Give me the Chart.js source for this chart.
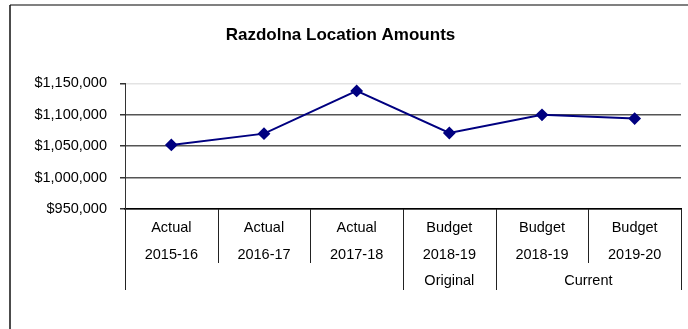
<!DOCTYPE html>
<html>
<head>
<meta charset="utf-8">
<title>Razdolna Location Amounts</title>
<script src="https://cdn.jsdelivr.net/npm/chart.js@4/dist/chart.umd.min.js"></script>
<style>
    html, body { margin: 0; padding: 0; background: #fff; }
    #wrap { position: relative; width: 688px; height: 329px; }
</style>
</head>
<body>
<div id="wrap"><canvas id="amountChart" width="688" height="329"></canvas></div>
<script>
// chart data
const years = ['2015-16', '2016-17', '2017-18', '2018-19', '2018-19', '2019-20'];
const kinds = ['Actual', 'Actual', 'Actual', 'Budget', 'Budget', 'Budget'];
const amounts = [1052000, 1070000, 1138000, 1071000, 1100000, 1094000];
// third label row: text, first and last category it spans
const groups = [
    { text: 'Original', from: 3, to: 3 },
    { text: 'Current', from: 4, to: 5 }
];
const yTicks = [950000, 1000000, 1050000, 1100000, 1150000];

const labelFont = 'Liberation Sans, Arial, sans-serif';

function money(v) {
    return '$' + v.toLocaleString('en-US');
}

// frame, category dividers and the group row under the axis
const tablePlugin = {
    id: 'tableLines',
    afterDraw(chart) {
        const ctx = chart.ctx;
        const area = chart.chartArea;
        const step = (area.right - area.left) / years.length;
        const edge = i => area.left + i * step;

        // boundaries that run down through the group row
        const fullEdges = [0, years.length];
        groups.forEach(g => { fullEdges.push(g.from); fullEdges.push(g.to + 1); });

        ctx.save();
        ctx.strokeStyle = '#222';
        ctx.lineWidth = 1;
        for (let i = 0; i <= years.length; i++) {
            const px = Math.round(edge(i)) + 0.5;
            const bottom = fullEdges.includes(i) ? area.bottom + 81 : area.bottom + 54;
            ctx.beginPath();
            ctx.moveTo(px, area.bottom);
            ctx.lineTo(px, bottom);
            ctx.stroke();
        }

        ctx.fillStyle = '#000';
        ctx.font = '14.5px ' + labelFont;
        ctx.textAlign = 'center';
        ctx.textBaseline = 'middle';
        groups.forEach(g => {
            const cx = (edge(g.from) + edge(g.to + 1)) / 2;
            ctx.fillText(g.text, cx, area.bottom + 72);
        });

        // outer frame
        ctx.strokeStyle = '#808080';
        ctx.lineWidth = 2;
        ctx.beginPath();
        ctx.moveTo(10, 5);
        ctx.lineTo(chart.width, 5);
        ctx.stroke();
        ctx.strokeStyle = '#111';
        ctx.lineWidth = 1.5;
        ctx.beginPath();
        ctx.moveTo(10, 5);
        ctx.lineTo(10, chart.height);
        ctx.stroke();
        ctx.restore();
    }
};

const chart = new Chart(document.getElementById('amountChart'), {
    type: 'line',
    data: {
        labels: kinds.map((k, i) => [k, years[i]]),
        datasets: [{
            label: 'Amount',
            data: amounts,
            borderColor: '#000080',
            backgroundColor: '#000080',
            borderWidth: 2,
            pointStyle: 'rectRot',
            pointRadius: 5,
            pointHoverRadius: 5,
            tension: 0
        }]
    },
    options: {
        responsive: false,
        animation: false,
        layout: {
            padding: { left: 0, right: 7, top: 0, bottom: 0 }
        },
        plugins: {
            legend: { display: false },
            tooltip: { enabled: false },
            title: {
                display: true,
                text: 'Razdolna Location Amounts',
                color: '#000',
                font: { family: labelFont, size: 17, weight: 'bold' },
                padding: { top: 25, bottom: 38 }
            }
        },
        scales: {
            x: {
                offset: true,
                afterFit(scale) { scale.height = 120; },
                grid: { display: false },
                border: { display: true, color: '#000', width: 1.5 },
                ticks: {
                    color: '#000',
                    padding: -2.5,
                    maxRotation: 0,
                    autoSkip: false,
                    font: { family: labelFont, size: 14.5, lineHeight: 1.87 }
                }
            },
            y: {
                min: 950000,
                max: 1150000,
                afterFit(scale) { scale.width = 125; },
                afterBuildTicks(scale) {
                    scale.ticks = yTicks.map(v => ({ value: v }));
                },
                grid: {
                    color: ctx => ctx.tick && ctx.tick.value === 1150000 ? '#e3e3e3' : '#555',
                    tickColor: '#333',
                    tickLength: 5,
                    lineWidth: 1.5
                },
                border: { display: true, color: '#333', width: 1 },
                ticks: {
                    color: '#000',
                    padding: 13,
                    font: { family: labelFont, size: 14.5 },
                    callback: v => money(v)
                }
            }
        }
    },
    plugins: [tablePlugin]
});
</script>
</body>
</html>
